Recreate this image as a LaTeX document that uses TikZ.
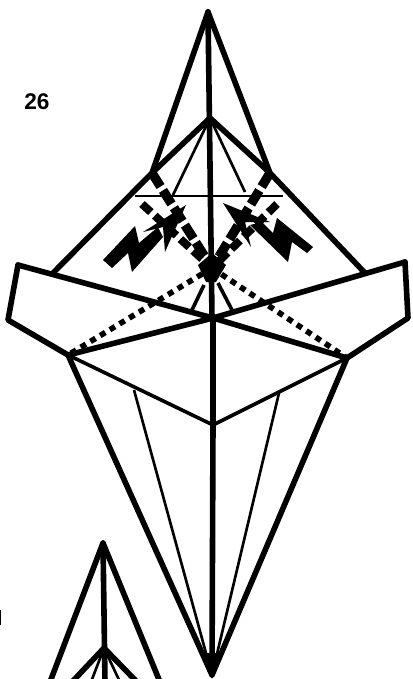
\documentclass[tikz,border=0pt]{standalone}
\usepackage{fontspec}
\setmainfont{Liberation Sans}
\begin{document}
\begin{tikzpicture}[x=0.75pt,y=-0.75pt,line join=round,
  thick line/.style={line width=4.2pt,line cap=round},
  mid line/.style={line width=2.7pt},
  thin line/.style={line width=2pt},
  heavy dash/.style={line width=7pt,dash pattern=on 12pt off 3.4pt},
  inner dash/.style={line width=6pt,dash pattern=on 9pt off 4pt},
  fine dash/.style={line width=4.2pt,dash pattern=on 4.5pt off 4pt}]
\useasboundingbox (0,0) rectangle (413,679);
\fill[white] (0,0) rectangle (413,679);
\node[font=\bfseries,scale=1.7,anchor=center] (num) at (37,102) {26};
% named points
\coordinate (top) at (208,12);
\coordinate (apex) at (210,118);
\coordinate (L) at (152,173);
\coordinate (R) at (270,173);
\coordinate (LL) at (53,273);
\coordinate (RR) at (365,273);
\coordinate (c) at (213,318);
\coordinate (blob) at (212,268);
\coordinate (wl) at (68,355);
\coordinate (wr) at (347,358);
\coordinate (bot) at (212,675);
\coordinate (mid) at (213,425);
\coordinate (hl) at (135,196);
\coordinate (hr) at (283,196);
% dashed folds
\draw[heavy dash] (L) -- (blob);
\draw[heavy dash] (R) -- (blob);
\draw[inner dash] (142,204) -- (blob);
\draw[inner dash] (277,204) -- (blob);
\draw[fine dash] (blob) -- (wl);
\draw[fine dash] (blob) -- (wr);
\fill (212,253) -- (226,265) -- (216,282) -- (206,282) -- (198,265) -- cycle;
% thin lines
\draw[thin line] (hl) -- (hr);
\draw[thin line] (apex) -- (173,195);
\draw[thin line] (apex) -- (245,192);
\draw[mid line] (wl) -- (mid) -- (wr);
\draw[thin line] (134,390) -- (bot);
\draw[thin line] (279,393) -- (bot);
\draw[mid line] (204,285) -- (192,310);
\draw[mid line] (218,283) -- (232,310);
% thick outlines
\draw[thick line] (top) -- (L) -- (LL);
\draw[thick line] (top) -- (R) -- (RR);
\draw[thick line] (L) -- (apex) -- (R);
\draw[thick line] (top) -- (212,318);
\draw[thick line] (c) -- (mid);
\draw[thick line] (mid) -- (bot);
\draw[thick line] (18,265) -- (8,320) -- (wl) -- (bot) -- (wr) -- (408,318) -- (405,262);
\draw[thick line] (18,265) -- (c) -- (wr);
\draw[thick line] (405,262) -- (c) -- (wl);
\fill (205,653) -- (212,679) -- (219,653) -- cycle;
% zigzag arrows
\fill (135,226) -- (139,243) -- (158,227) -- (163,237) -- (132,272) -- (128,253) -- (112,268) -- (103,260) -- cycle;
\fill (277,218) -- (313,247) -- (307,253) -- (292,242) -- (288,262) -- (250,225) -- (262,222) -- (273,233) -- cycle;
\fill (186,205) -- (143,232) -- (163,227) -- (165,252) -- cycle;
\fill (223,203) -- (270,222) -- (245,222) -- (251,247) -- cycle;
% lower figure
\begin{scope}
\clip (0,0) rectangle (413,679);
\coordinate (t2) at (103,543);
\coordinate (a2) at (104,648);
\draw[thick line] (50,682) -- (t2) -- (160,682);
\draw[thick line] (t2) -- (105,682);
\draw[thick line] (72,682) -- (a2) -- (137,682);
\draw[thin line] (a2) -- (91,682);
\draw[thin line] (a2) -- (120,682);
\end{scope}
\fill (0,610) rectangle (1.5,625);
\end{tikzpicture}
\end{document}
